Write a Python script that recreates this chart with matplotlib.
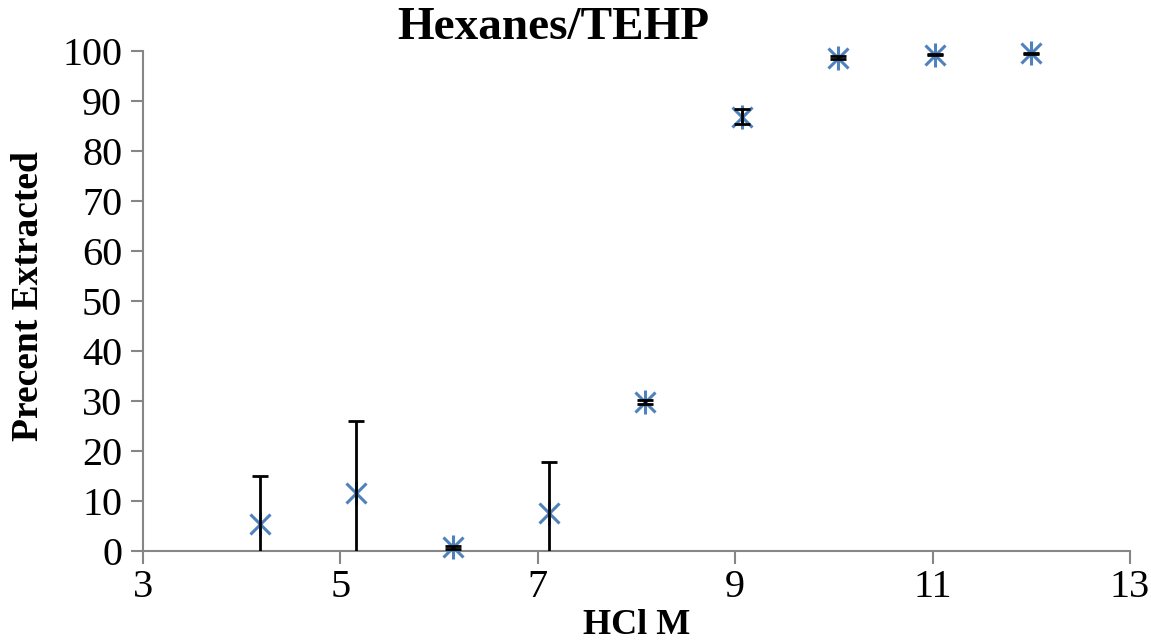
import numpy as np
import matplotlib.pyplot as plt

hcl = [4.19, 5.16, 6.14, 7.11, 8.09, 9.07, 10.04, 11.02, 12.0]
extracted = [5.4, 11.6, 0.8, 7.6, 29.8, 86.9, 98.7, 99.3, 99.6]
err = [9.6, 14.4, 0.3, 10.3, 0.4, 1.4, 0.3, 0.1, 0.1]

plt.rcParams['font.family'] = ['Liberation Serif', 'DejaVu Serif']

fig = plt.figure(figsize=(11.51, 6.42), dpi=100)
ax = fig.add_axes([143 / 1151, 1 - 551 / 642, (1130 - 143) / 1151, 500 / 642])

blue = '#4F81BD'
# asterisk marker = x + vertical stroke
ax.plot(hcl, extracted, 'x', color=blue, markersize=14, markeredgewidth=2.2,
        zorder=2, clip_on=False)
ax.plot(hcl, extracted, '|', color=blue, markersize=17, markeredgewidth=2.2,
        zorder=2, clip_on=False)
# error bars get cut off at the x axis
ax.errorbar(hcl, extracted, yerr=err, fmt='none', ecolor='black',
            elinewidth=2, capsize=6, capthick=2, zorder=3)

ax.set_xlim(3, 13)
ax.set_ylim(0, 100)
ax.set_xticks(np.arange(3, 14, 2))
ax.set_yticks(np.arange(0, 101, 10))
for side in ['top', 'right']:
    ax.spines[side].set_visible(False)
for side in ['left', 'bottom']:
    ax.spines[side].set_color('#868686')
    ax.spines[side].set_linewidth(1.5)
    ax.spines[side].set_zorder(1)
ax.tick_params(axis='both', colors='#868686', width=1.5, length=9, labelsize=29,
               labelcolor='black')
ax.tick_params(axis='y', pad=6)
ax.tick_params(axis='x', pad=4)

fig.text(553 / 1151, 1 - 28 / 642, 'Hexanes/TEHP', ha='center', va='center',
         fontsize=34, fontweight='bold')
fig.text(637 / 1151, 1 - 626 / 642, 'HCl M', ha='center', va='center',
         fontsize=26, fontweight='bold')
fig.text(28 / 1151, 1 - 296 / 642, 'Precent Extracted', ha='center', va='center',
         rotation=90, fontsize=27, fontweight='bold')

plt.savefig('out.png', dpi=100)
